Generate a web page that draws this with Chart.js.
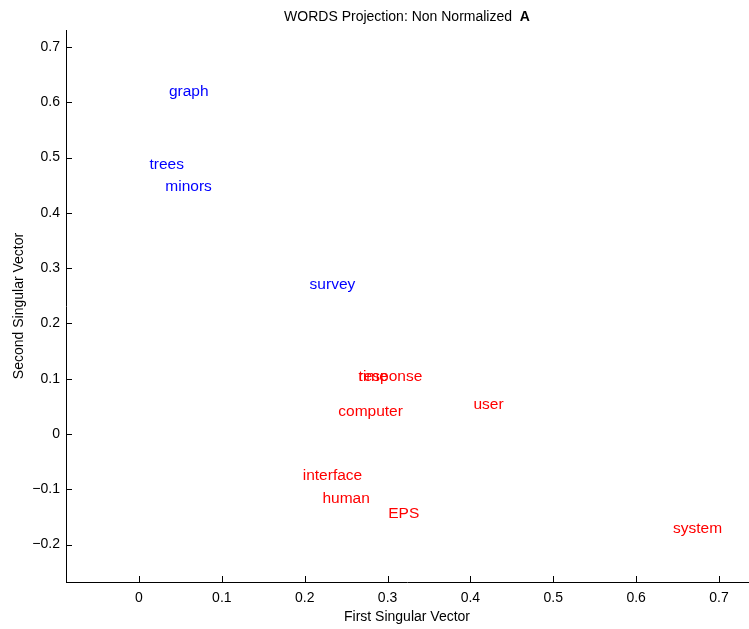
<!DOCTYPE html>
<html>
<head>
<meta charset="utf-8">
<script src="https://cdn.jsdelivr.net/npm/chart.js@4.4.1/dist/chart.umd.min.js"></script>
<style>
  html, body { margin: 0; padding: 0; background: #fff; }
  #wrap { width: 749px; height: 629px; position: relative; }
</style>
</head>
<body>
<div id="wrap"><canvas id="wordsChart"></canvas></div>
<script>
// Word projections onto the first two singular vectors
var words = ["human", "interface", "computer", "user", "system", "response",
             "time", "EPS", "survey", "trees", "graph", "minors"];
var firstVec = [0.2214, 0.1976, 0.2405, 0.4036, 0.6445, 0.2650,
                0.2650, 0.3008, 0.2059, 0.0127, 0.0361, 0.0318];
var secondVec = [-0.1132, -0.0721, 0.0432, 0.0571, -0.1673, 0.1072,
                 0.1072, -0.1413, 0.2736, 0.4902, 0.6228, 0.4505];
var wordGroup = ["r", "r", "r", "r", "r", "r", "r", "r", "b", "b", "b", "b"];

var xTicks = [0, 0.1, 0.2, 0.3, 0.4, 0.5, 0.6, 0.7];
var yTicks = [-0.2, -0.1, 0, 0.1, 0.2, 0.3, 0.4, 0.5, 0.6, 0.7];
var xRange = [-0.0881, 0.7350];
var yRange = [-0.2677, 0.7307];

var FONT = "'Liberation Sans', Arial, Helvetica, sans-serif";
var groupColor = { r: "#ff0000", b: "#0000ff" };

function fmtTick(v) {
  var s = String(Math.round(v * 10) / 10);
  return s.charAt(0) === "-" ? "\u2212" + s.slice(1) : s;
}

// word labels, inward tick marks and title
var wordLabels = {
  id: "wordLabels",
  afterDatasetsDraw: function (chart) {
    var ctx = chart.ctx;
    var meta = chart.getDatasetMeta(0);
    ctx.save();
    ctx.font = "15.5px " + FONT;
    ctx.textAlign = "left";
    ctx.textBaseline = "middle";
    meta.data.forEach(function (pt, i) {
      ctx.fillStyle = groupColor[wordGroup[i]];
      // matlab puts text a hair below the anchor
      ctx.fillText(words[i], pt.x, pt.y + 2);
    });
    ctx.restore();
  },
  afterDraw: function (chart) {
    var ctx = chart.ctx;
    var xs = chart.scales.x, ys = chart.scales.y;
    var area = chart.chartArea;
    ctx.save();
    ctx.strokeStyle = "#000";
    ctx.lineWidth = 1;
    ctx.beginPath();
    xTicks.forEach(function (v) {
      var px = Math.round(xs.getPixelForValue(v)) + 0.5;
      ctx.moveTo(px, area.bottom);
      ctx.lineTo(px, area.bottom - 6);
    });
    yTicks.forEach(function (v) {
      var py = Math.round(ys.getPixelForValue(v)) + 0.5;
      ctx.moveTo(area.left, py);
      ctx.lineTo(area.left + 6, py);
    });
    ctx.stroke();

    // title with bold "A"
    var t1 = "WORDS Projection: Non Normalized  ";
    ctx.fillStyle = "#000";
    ctx.textBaseline = "middle";
    ctx.textAlign = "left";
    ctx.font = "14px " + FONT;
    var w1 = ctx.measureText(t1).width;
    ctx.font = "bold 14px " + FONT;
    var w2 = ctx.measureText("A").width;
    var cx = (area.left + area.right) / 2;
    var x0 = cx - (w1 + w2) / 2;
    ctx.font = "14px " + FONT;
    ctx.fillText(t1, x0, 17);
    ctx.font = "bold 14px " + FONT;
    ctx.fillText("A", x0 + w1, 17);
    ctx.restore();
  }
};

var ctx = document.getElementById("wordsChart");
new Chart(ctx, {
  type: "scatter",
  data: {
    datasets: [{
      label: "words",
      data: firstVec.map(function (v, i) { return { x: v, y: secondVec[i] }; }),
      pointRadius: 0,
      pointHoverRadius: 0,
      clip: false
    }]
  },
  options: {
    responsive: true,
    maintainAspectRatio: false,
    animation: false,
    events: [],
    layout: { padding: { top: 30, right: 1, left: 0, bottom: 0 } },
    plugins: {
      legend: { display: false },
      tooltip: { enabled: false }
    },
    scales: {
      x: {
        type: "linear",
        min: xRange[0],
        max: xRange[1],
        afterBuildTicks: function (s) { s.ticks = xTicks.map(function (v) { return { value: v }; }); },
        afterFit: function (s) { s.height = 47; },
        grid: { display: false, drawTicks: false },
        border: { display: true, color: "#000", width: 1 },
        ticks: {
          color: "#000",
          padding: 8,
          maxRotation: 0,
          autoSkip: false,
          font: { family: FONT, size: 14 },
          callback: function (v) { return fmtTick(v); }
        },
        title: {
          display: true,
          text: "First Singular Vector",
          color: "#000",
          font: { family: FONT, size: 14 },
          padding: { top: 0, bottom: 3 }
        }
      },
      y: {
        type: "linear",
        min: yRange[0],
        max: yRange[1],
        afterBuildTicks: function (s) { s.ticks = yTicks.map(function (v) { return { value: v }; }); },
        afterFit: function (s) { s.width = 66; },
        grid: { display: false, drawTicks: false },
        border: { display: true, color: "#000", width: 1 },
        ticks: {
          color: "#000",
          padding: 6,
          autoSkip: false,
          font: { family: FONT, size: 14 },
          callback: function (v) { return fmtTick(v); }
        },
        title: {
          display: true,
          text: "Second Singular Vector",
          color: "#000",
          font: { family: FONT, size: 14 },
          padding: { top: 11, bottom: 0 }
        }
      }
    }
  },
  plugins: [wordLabels]
});
</script>
</body>
</html>
